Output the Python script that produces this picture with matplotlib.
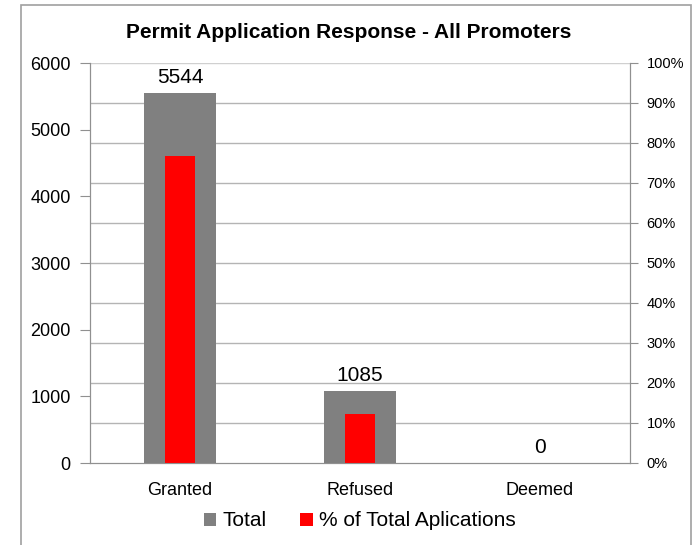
import matplotlib.pyplot as plt
import numpy as np
from matplotlib.patches import Rectangle

plt.rcParams['font.family'] = ['Liberation Sans', 'DejaVu Sans']

categories = ['Granted', 'Refused', 'Deemed']
totals = [5544, 1085, 0]
pct_of_total = [76.8, 12.2, 0.0]

fig = plt.figure(figsize=(6.97, 5.45), dpi=100)
# outer chart frame
fig.patches.append(Rectangle((21 / 697, -0.05), (691 - 21) / 697, 1.05 - 5 / 545,
                             transform=fig.transFigure, fill=False,
                             edgecolor='#a0a0a0', linewidth=1.2))

ax = fig.add_axes([90 / 697, (545 - 463) / 545, 540 / 697, 400 / 545])
ax2 = ax.twinx()

# gridlines follow the secondary (percent) axis, behind the bars
for t in range(10, 101, 10):
    ax.axhline(t * 60, color='#b4b4b4' if t < 100 else '#d0d0d0', linewidth=1, zorder=0)

x = np.arange(len(categories))
ax.bar(x, totals, 0.4, color='#808080', label='Total', zorder=2)
ax2.bar(x, pct_of_total, 0.167, color='#ff0000', label='% of Total Aplications', zorder=2)

for xi, v in zip(x, totals):
    ax.text(xi, v + 90, str(v), ha='center', va='bottom', fontsize=15)

ax.set_xlim(-0.5, 2.5)
ax.set_ylim(0, 6000)
ax.set_yticks(range(0, 6001, 1000))
ax2.set_ylim(0, 100)
ax2.set_yticks(range(0, 101, 10))
ax2.set_yticklabels([f'{t}%' for t in range(0, 101, 10)])

ax.set_xticks(x)
ax.set_xticklabels(categories, fontsize=13)
ax.tick_params(axis='x', length=0, pad=14)
ax.tick_params(axis='y', labelsize=13, length=7, color='#909090', pad=7)
ax2.tick_params(axis='y', labelsize=10.5, length=6, color='#909090', pad=6)

for a in (ax, ax2):
    a.spines['top'].set_visible(False)
    for s in ('left', 'right', 'bottom'):
        a.spines[s].set_color('#909090')

ax.set_zorder(ax2.get_zorder() - 1)
ax2.patch.set_visible(False)
ax.patch.set_visible(False)

fig.text(0.5, 1 - 32 / 545, 'Permit Application Response - All Promoters',
         ha='center', va='center', fontsize=15, fontweight='bold')

h1, l1 = ax.get_legend_handles_labels()
h2, l2 = ax2.get_legend_handles_labels()
fig.legend(h1 + h2, l1 + l2, loc='center', bbox_to_anchor=(0.516, 1 - 521 / 545),
           ncol=2, frameon=False, fontsize=15, handlelength=0.6, handleheight=0.6,
           handletextpad=0.3, columnspacing=1.6)

fig.savefig('out.png', dpi=100, facecolor='white')
